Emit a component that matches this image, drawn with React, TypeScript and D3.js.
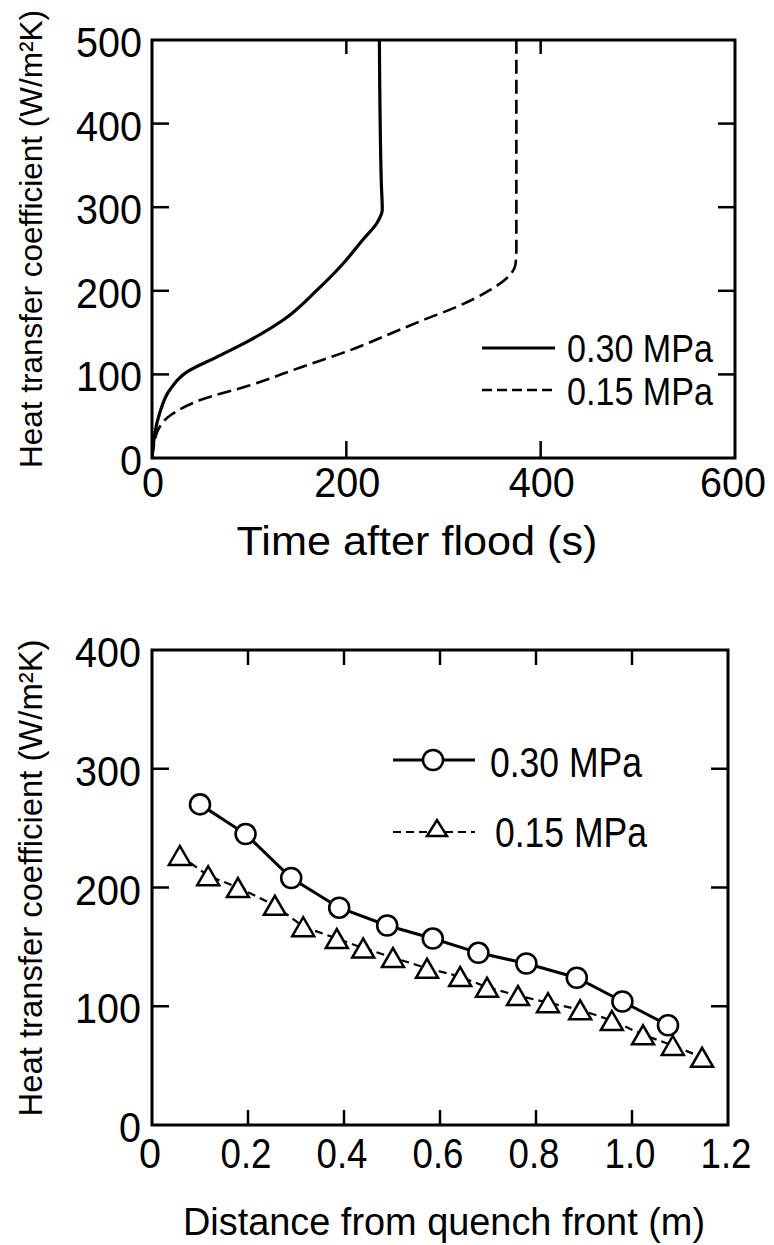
import React from 'react';
import * as d3 from 'd3';

// ---- Top chart data: heat transfer coefficient vs time after flood ----
const topXTicks = [0, 200, 400, 600];
const topYTicks = [0, 100, 200, 300, 400, 500];
const topXInnerTicks = [200, 400];
const topYInnerTicks = [100, 200, 300, 400];
const solidTime = [0, 1, 3, 8, 18, 36, 67, 101, 135, 170, 197, 217, 232, 237, 236, 234];
const solidHtc = [0, 12, 30, 54, 81, 103, 121, 141, 165, 201, 233, 261, 282, 297, 329, 500];
const dashTime = [0, 2, 6, 20, 49, 101, 152, 204, 250, 279, 314, 348, 365, 374, 375, 375];
const dashHtc = [0, 15, 33, 52, 69, 87, 108, 129, 151, 165, 181, 201, 215, 231, 249, 500];
const topLegend = ['0.30 MPa', '0.15 MPa'];

// ---- Bottom chart data: heat transfer coefficient vs distance ----
const botXTicks = [0, 0.2, 0.4, 0.6, 0.8, 1.0, 1.2];
const botXTickLabels = ['0', '0.2', '0.4', '0.6', '0.8', '1.0', '1.2'];
const botYTicks = [0, 100, 200, 300, 400];
const botXInnerTicks = [0.2, 0.4, 0.6, 0.8, 1.0];
const botYInnerTicks = [100, 200, 300];
const circDist = [0.1, 0.195, 0.29, 0.39, 0.49, 0.585, 0.68, 0.78, 0.885, 0.98, 1.075];
const circHtc = [270, 245, 208, 183, 168, 157, 145, 136, 124, 104, 84];
const triDist = [0.058, 0.117, 0.179, 0.256, 0.315, 0.385, 0.44, 0.502, 0.573, 0.642, 0.698, 0.7625, 0.825, 0.892, 0.958, 1.023, 1.085, 1.146];
const triHtc = [227, 210, 200, 185, 167, 157, 149, 141, 132, 125, 116, 109, 103, 97, 88, 76, 67, 57];
const botLegend = ['0.30 MPa', '0.15 MPa'];

const yTitle = 'Heat transfer coefficient (W/m\u00B2K)';
const topXTitle = 'Time after flood (s)';
const botXTitle = 'Distance from quench front (m)';

const FONT = '"Liberation Sans", Arial, sans-serif';

const labelWidth = (s: string) =>
  s.split('').reduce((a, c) => a + (c === '.' ? 7 : 22), 0);

function Txt(props: any) {
  const { x, y, size, len, anchor = 'start', children, transform } = props;
  return (
    <text
      x={x}
      y={y}
      fontSize={size}
      fontFamily={FONT}
      textAnchor={anchor}
      textLength={len}
      lengthAdjust="spacingAndGlyphs"
      transform={transform}
      fill="#000"
    >
      {children}
    </text>
  );
}

const tri = (cx: number, cy: number, w = 22, h = 19) =>
  `M${cx - w / 2},${cy + h / 2}L${cx + w / 2},${cy + h / 2}L${cx},${cy - h / 2}Z`;

export default function App() {
  const xT = d3.scaleLinear().domain([0, 600]).range([152, 735]);
  const yT = d3.scaleLinear().domain([0, 500]).range([458, 40]);
  const xB = d3.scaleLinear().domain([0, 1.2]).range([152, 728]);
  const yB = d3.scaleLinear().domain([0, 400]).range([1125, 650]);

  const curve = d3
    .line<[number, number]>()
    .x((d) => xT(d[0]))
    .y((d) => yT(d[1]))
    .curve(d3.curveMonotoneY);
  const solidPath = curve(solidTime.map((t, i) => [t, solidHtc[i]]) as [number, number][]) || '';
  const dashPath = curve(dashTime.map((t, i) => [t, dashHtc[i]]) as [number, number][]) || '';

  const lineB = d3
    .line<[number, number]>()
    .x((d) => xB(d[0]))
    .y((d) => yB(d[1]));
  const circPath = lineB(circDist.map((d, i) => [d, circHtc[i]]) as [number, number][]) || '';
  const triPath = lineB(triDist.map((d, i) => [d, triHtc[i]]) as [number, number][]) || '';

  const tickLen = 17;
  const axisW = 3;

  const [tx0, tx1] = xT.range();
  const [ty0, ty1] = [yT(0), yT(500)];
  const [bx0, bx1] = xB.range();
  const [by0, by1] = [yB(0), yB(400)];

  return (
    <svg
      width={774}
      height={1245}
      style={{ position: 'absolute', left: 0, top: 0, background: '#fff' }}
    >
      <rect x={0} y={0} width={774} height={1245} fill="#fff" />
      <defs>
        <clipPath id="clipTop">
          <rect x={tx0} y={ty1} width={tx1 - tx0} height={ty0 - ty1} />
        </clipPath>
      </defs>

      {/* ===== TOP CHART ===== */}
      <g>
        <rect x={tx0} y={ty1} width={tx1 - tx0} height={ty0 - ty1} fill="none" stroke="#000" strokeWidth={axisW} />
        {topYInnerTicks.map((v) => (
          <g key={'ty' + v}>
            <line x1={tx0} x2={tx0 + tickLen} y1={yT(v)} y2={yT(v)} stroke="#000" strokeWidth={2.5} />
            <line x1={tx1} x2={tx1 - tickLen} y1={yT(v)} y2={yT(v)} stroke="#000" strokeWidth={2.5} />
          </g>
        ))}
        {topXInnerTicks.map((v) => (
          <g key={'tx' + v}>
            <line x1={xT(v)} x2={xT(v)} y1={ty0} y2={ty0 - tickLen} stroke="#000" strokeWidth={2.5} />
            <line x1={xT(v)} x2={xT(v)} y1={ty1} y2={ty1 + 14} stroke="#000" strokeWidth={2.5} />
          </g>
        ))}
        {topYTicks.map((v) => (
          <Txt key={'tyl' + v} x={142} y={yT(v) + 17} size={42} anchor="end" len={labelWidth(String(v))}>
            {String(v)}
          </Txt>
        ))}
        {topXTicks.map((v) => (
          <Txt key={'txl' + v} x={Math.min(xT(v) + 1, 733)} y={497} size={42} anchor="middle" len={labelWidth(String(v))}>
            {String(v)}
          </Txt>
        ))}
        <g clipPath="url(#clipTop)">
          <path d={solidPath} fill="none" stroke="#000" strokeWidth={3.2} />
          <path d={dashPath} fill="none" stroke="#000" strokeWidth={2.6} strokeDasharray="14,6" />
        </g>
        {/* legend */}
        <line x1={482} x2={555} y1={348} y2={348} stroke="#000" strokeWidth={3} />
        <Txt x={567} y={362} size={38} len={146}>{topLegend[0]}</Txt>
        <line x1={482} x2={555} y1={390} y2={390} stroke="#000" strokeWidth={2.6} strokeDasharray="10,5" />
        <Txt x={567} y={405} size={38} len={146}>{topLegend[1]}</Txt>
        {/* titles */}
        <Txt x={0} y={0} size={32} anchor="middle" len={458} transform="translate(42,239) rotate(-90)">
          {yTitle}
        </Txt>
        <Txt x={417} y={555} size={40} anchor="middle" len={361}>{topXTitle}</Txt>
      </g>

      {/* ===== BOTTOM CHART ===== */}
      <g>
        <rect x={bx0} y={by1} width={bx1 - bx0} height={by0 - by1} fill="none" stroke="#000" strokeWidth={axisW} />
        {botYInnerTicks.map((v) => (
          <g key={'by' + v}>
            <line x1={bx0} x2={bx0 + tickLen} y1={yB(v)} y2={yB(v)} stroke="#000" strokeWidth={2.5} />
            <line x1={bx1} x2={bx1 - tickLen} y1={yB(v)} y2={yB(v)} stroke="#000" strokeWidth={2.5} />
          </g>
        ))}
        {botXInnerTicks.map((v) => (
          <g key={'bx' + v}>
            <line x1={xB(v)} x2={xB(v)} y1={by0} y2={by0 - 15} stroke="#000" strokeWidth={2.5} />
            <line x1={xB(v)} x2={xB(v)} y1={by1} y2={by1 + 15} stroke="#000" strokeWidth={2.5} />
          </g>
        ))}
        {botYTicks.map((v) => (
          <Txt key={'byl' + v} x={141} y={yB(v) + 17} size={42} anchor="end" len={labelWidth(String(v))}>
            {String(v)}
          </Txt>
        ))}
        {botXTicks.map((v, i) => (
          <Txt key={'bxl' + v} x={xB(v) - 2} y={1168} size={42} anchor="middle" len={labelWidth(botXTickLabels[i])}>
            {botXTickLabels[i]}
          </Txt>
        ))}
        <path d={triPath} fill="none" stroke="#000" strokeWidth={2.2} strokeDasharray="8,5" />
        <path d={circPath} fill="none" stroke="#000" strokeWidth={3} />
        {triDist.map((d, i) => (
          <path key={'t' + i} d={tri(xB(d), yB(triHtc[i]))} fill="#fff" stroke="#000" strokeWidth={2.5} strokeLinejoin="miter" />
        ))}
        {circDist.map((d, i) => (
          <circle key={'c' + i} cx={xB(d)} cy={yB(circHtc[i])} r={10} fill="#fff" stroke="#000" strokeWidth={2.6} />
        ))}
        {/* legend */}
        <line x1={393} x2={475} y1={760} y2={760} stroke="#000" strokeWidth={3} />
        <circle cx={433} cy={760} r={10} fill="#fff" stroke="#000" strokeWidth={2.6} />
        <Txt x={490} y={777} size={42} len={152}>{botLegend[0]}</Txt>
        <line x1={393} x2={475} y1={832} y2={832} stroke="#000" strokeWidth={2.2} strokeDasharray="8,5" />
        <path d={tri(437, 828, 20, 16)} fill="#fff" stroke="#000" strokeWidth={2.5} />
        <Txt x={495} y={847} size={42} len={152}>{botLegend[1]}</Txt>
        {/* titles */}
        <Txt x={0} y={0} size={33} anchor="middle" len={477} transform="translate(42,878) rotate(-90)">
          {yTitle}
        </Txt>
        <Txt x={444} y={1235} size={38} anchor="middle" len={522}>{botXTitle}</Txt>
      </g>
    </svg>
  );
}
